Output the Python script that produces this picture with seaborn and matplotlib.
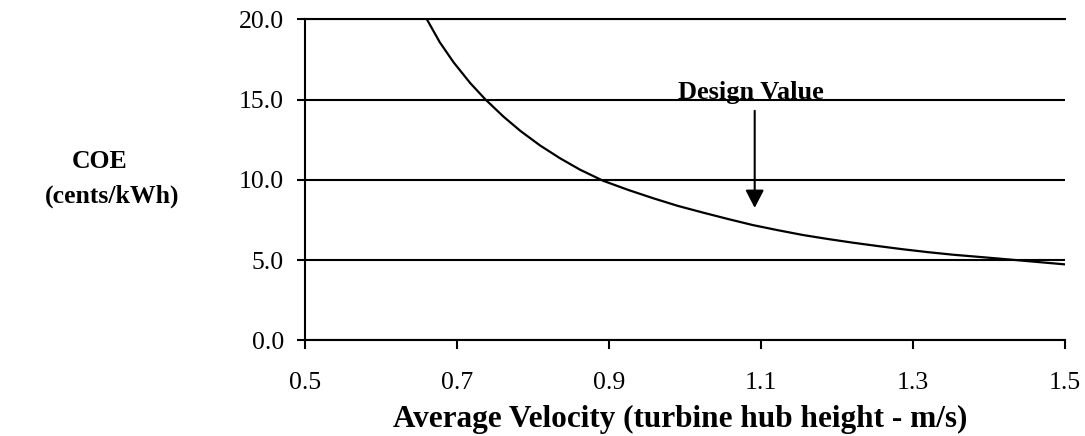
import matplotlib
matplotlib.use("Agg")
import matplotlib.pyplot as plt
import seaborn as sns
import pandas as pd

# ---- data ----
velocity = [0.660, 0.677, 0.695, 0.717, 0.737, 0.761, 0.783, 0.809, 0.835, 0.862,
            0.892, 0.925, 0.958, 0.990, 1.024, 1.057, 1.089, 1.122, 1.155, 1.188,
            1.221, 1.254, 1.287, 1.320, 1.353, 1.386, 1.418, 1.459, 1.500]
coe = [20.0, 18.57, 17.33, 16.03, 15.01, 13.93, 13.05, 12.14, 11.35, 10.62,
       9.94, 9.37, 8.85, 8.38, 7.95, 7.55, 7.18, 6.86, 6.56, 6.31,
       6.08, 5.87, 5.67, 5.49, 5.33, 5.20, 5.07, 4.90, 4.73]

x_ticks = [0.5, 0.7, 0.9, 1.1, 1.3, 1.5]
x_tick_labels = ["0.5", "0.7", "0.9", "1.1", "1.3", "1.5"]
y_ticks = [0, 5, 10, 15, 20]
y_tick_labels = ["0.0", "5.0", "10.0", "15.0", "20.0"]

design_x = 1.0915
design_label = "Design Value"
x_title = "Average Velocity (turbine hub height - m/s)"
y_title_1 = "COE"
y_title_2 = "(cents/kWh)"

# ---- style ----
sns.set_theme(style="white")
plt.rcParams["font.family"] = ["Liberation Serif", "DejaVu Serif"]

df = pd.DataFrame({"velocity": velocity, "coe": coe})

fig = plt.figure(figsize=(10.85, 4.36), dpi=100)
ax = fig.add_axes([0.2814, 0.2195, 0.7002, 0.7362])

sns.lineplot(data=df, x="velocity", y="coe", color="black", linewidth=1.6,
             sort=False, ax=ax, zorder=3)

ax.set_xlim(0.5, 1.5)
ax.set_ylim(0, 20)
ax.set_xticks(x_ticks)
ax.set_xticklabels(x_tick_labels)
ax.set_yticks(y_ticks)
ax.set_yticklabels(y_tick_labels)

ax.yaxis.grid(True, color="black", linewidth=1.5)
ax.xaxis.grid(False)

for side in ["left", "bottom", "top"]:
    ax.spines[side].set_visible(True)
    ax.spines[side].set_color("black")
    ax.spines[side].set_linewidth(1.5)
ax.spines["right"].set_visible(False)

ax.tick_params(axis="x", which="major", direction="out", length=6.5, width=1.5,
               color="black", labelsize=18.5, pad=16.0, bottom=True, top=False,
               labelcolor="black")
ax.tick_params(axis="y", which="major", direction="out", length=6.0, width=1.5,
               color="black", labelsize=18.5, pad=9.5, left=True, right=False,
               labelcolor="black")

ax.set_xlabel(x_title, fontsize=22.5, fontweight="bold", color="black")
ax.xaxis.label.set_va("baseline")
ax.xaxis.set_label_coords(0.493, (340.3 - 426.7) / 321.0)
ax.set_ylabel("")

fig.text(100 / 1085, 1 - 168 / 436, y_title_1, ha="center", va="baseline",
         fontsize=18.5, fontweight="bold", color="black")
fig.text(112 / 1085, 1 - 203 / 436, y_title_2, ha="center", va="baseline",
         fontsize=18.5, fontweight="bold", color="black")

ax.text(1.087, 15.03, design_label, ha="center", va="baseline",
        fontsize=19, fontweight="bold", color="black", zorder=4)
ax.annotate("", xy=(design_x, 8.25), xytext=(design_x, 14.3),
            arrowprops=dict(arrowstyle="-|>,head_length=0.54,head_width=0.28",
                            mutation_scale=20, color="black", linewidth=1.5,
                            shrinkA=0, shrinkB=0))

fig.savefig("out.png", dpi=100, facecolor="white")
